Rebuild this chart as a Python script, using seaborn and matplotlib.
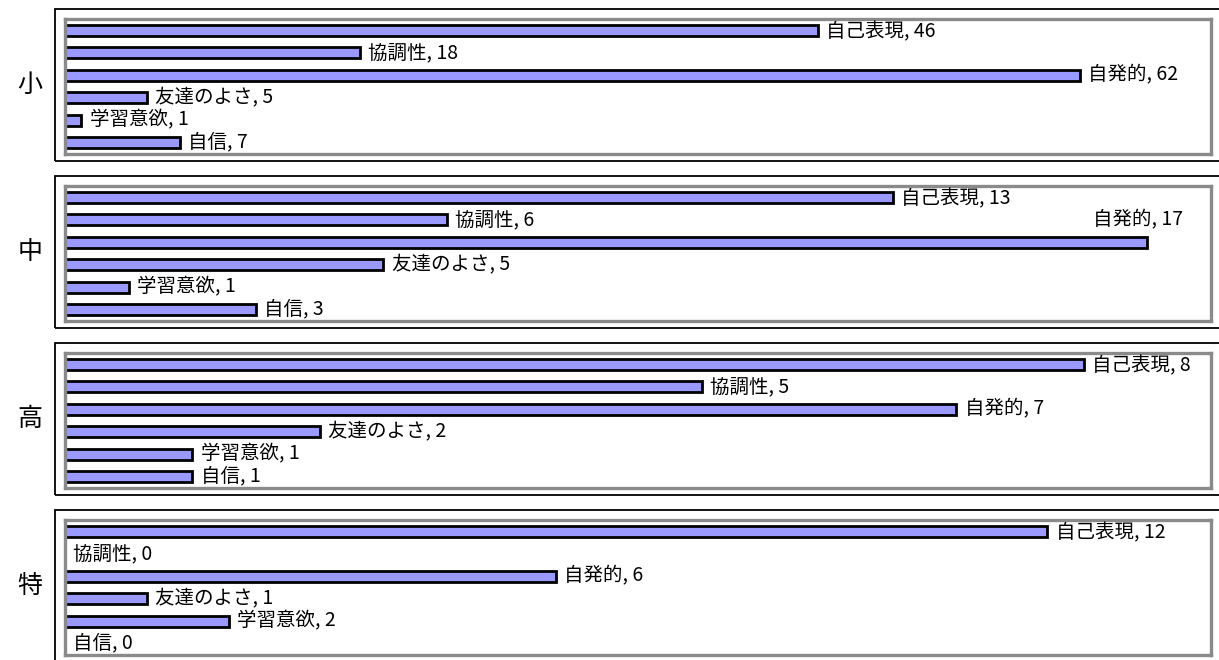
import matplotlib
matplotlib.use("Agg")
import matplotlib.pyplot as plt
from matplotlib.patches import Rectangle
import pandas as pd
import seaborn as sns

# Survey tallies per school level
groups = ["小", "中", "高", "特"]
categories = ["自己表現", "協調性", "自発的", "友達のよさ", "学習意欲", "自信"]
values_sho = [46, 18, 62, 5, 1, 7]
values_chu = [13, 6, 17, 5, 1, 3]
values_ko = [8, 5, 7, 2, 1, 1]
values_toku = [12, 0, 6, 1, 2, 0]
axis_max = [70, 18, 9, 14]

series = [values_sho, values_chu, values_ko, values_toku]

sns.set_theme(style="white")
plt.rcParams["font.family"] = ["Noto Sans CJK JP", "DejaVu Sans"]

W, H = 1219, 660
fig = plt.figure(figsize=(W / 100, H / 100), dpi=100)

BAR_COLOR = "#9999FF"
pitch = 167
outer_top0 = 9
outer_h = 152
inner_off = 10
inner_h = 135
inner_left, inner_right = 65, 1211
outer_left = 55

axes = []
for k, (grp, vals, xmax) in enumerate(zip(groups, series, axis_max)):
    otop = outer_top0 + k * pitch
    # outer frame of each panel
    fig.patches.append(Rectangle((outer_left / W, 1 - (otop + outer_h) / H),
                                 (W + 20 - outer_left) / W, outer_h / H,
                                 transform=fig.transFigure, fill=False,
                                 edgecolor="black", linewidth=1.3, zorder=0))
    itop = otop + inner_off
    ax = fig.add_axes([inner_left / W, 1 - (itop + inner_h) / H,
                       (inner_right - inner_left) / W, inner_h / H])
    df = pd.DataFrame({"category": categories, "value": vals})
    sns.barplot(data=df, x="value", y="category", orient="h", color=BAR_COLOR,
                saturation=1, edgecolor="black", linewidth=2.0, width=0.48,
                ax=ax)
    ax.set_xlim(0, xmax)
    ax.set_ylim(len(categories) - 0.5, -0.5)
    ax.set_xlabel("")
    ax.set_ylabel("")
    ax.set_xticks([])
    ax.set_yticks([])
    for s in ax.spines.values():
        s.set_color("#8a8a8a")
        s.set_linewidth(2.4)
    for i, (cat, v) in enumerate(zip(categories, vals)):
        ax.annotate(f"{cat}, {v}", xy=(v, i), xytext=(6, 0),
                    textcoords="offset points", ha="left", va="center",
                    fontsize=14, color="black")
    axes.append(ax)
    fig.text(30 / W, 1 - (otop + outer_h / 2) / H, grp, fontsize=18,
             ha="center", va="center", color="black")

# Keep value labels inside the plot area: labels running past the right edge
# go above their bar, right-aligned; labels touching top/bottom are nudged in.
fig.canvas.draw()
renderer = fig.canvas.get_renderer()
px2pt = 72 / fig.dpi
for ax in axes:
    abox = ax.get_window_extent(renderer)
    for t in list(ax.texts):
        tb = t.get_window_extent(renderer)
        if tb.x1 > abox.x1:
            x, y = t.xy
            t.xy = (ax.get_xlim()[1], y - 1)
            t.set_position((-20, 0))
            t.set_ha("right")
    fig.canvas.draw()
    for t in list(ax.texts):
        tb = t.get_window_extent(renderer)
        dx, dy = t.get_position()
        margin = 2
        if tb.y1 > abox.y1 - margin:
            t.set_position((dx, dy - (tb.y1 - abox.y1 + margin) * px2pt))
        elif tb.y0 < abox.y0 + margin:
            t.set_position((dx, dy + (abox.y0 + margin - tb.y0) * px2pt))

fig.savefig("out.png", dpi=100)
